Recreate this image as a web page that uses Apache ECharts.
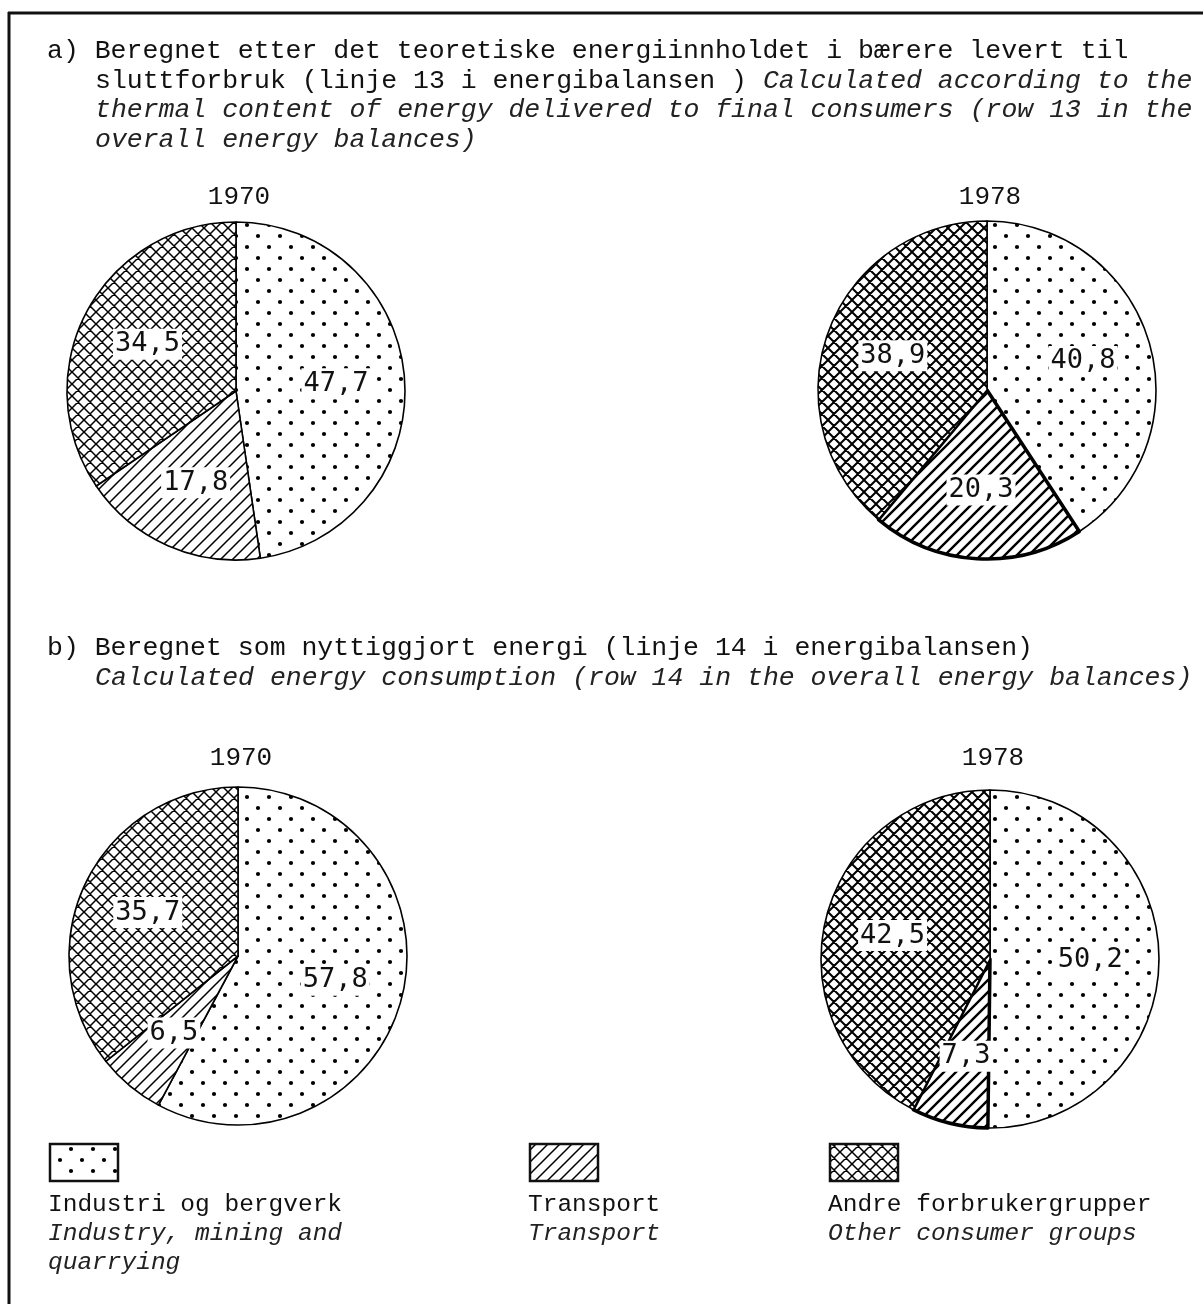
<!DOCTYPE html>
<html><head><meta charset="utf-8">
<script src="https://cdn.jsdelivr.net/npm/echarts@6/dist/echarts.min.js"></script>
<style>html,body{margin:0;padding:0;background:#fff}#c{width:1203px;height:1304px}</style>
</head><body><div id="c"></div>
<script>
// ---- data ----
const categoriesNo = ['Industri og bergverk', 'Transport', 'Andre forbrukergrupper'];
const categoriesEn = [['Industry, mining and', 'quarrying'], ['Transport'], ['Other consumer groups']];
const years = ['1970', '1978'];
const valuesA1970 = [47.7, 17.8, 34.5];
const valuesA1978 = [40.8, 20.3, 38.9];
const valuesB1970 = [57.8, 6.5, 35.7];
const valuesB1978 = [50.2, 7.3, 42.5];
const titleA = [
  '{n|a) Beregnet etter det teoretiske energiinnholdet i bærere levert til}',
  '{n|sluttforbruk (linje 13 i energibalansen ) }{i|Calculated according to the}',
  '{i|thermal content of energy delivered to final consumers (row 13 in the}',
  '{i|overall energy balances)}'
];
const titleB = [
  '{n|b) Beregnet som nyttiggjort energi (linje 14 i energibalansen)}',
  '{i|Calculated energy consumption (row 14 in the overall energy balances)}'
];

// ---- patterns ----
function makePattern(type, lw) {
  const c = document.createElement('canvas');
  const s = type === 'dots' ? 22 : 12;
  c.width = s; c.height = s;
  const g = c.getContext('2d');
  g.fillStyle = '#fff'; g.fillRect(0, 0, s, s);
  g.fillStyle = '#000'; g.strokeStyle = '#000'; g.lineWidth = lw;
  if (type === 'dots') {
    [[5, 5], [16, 16]].forEach(([x, y]) => { g.beginPath(); g.arc(x, y, 2.1, 0, Math.PI * 2); g.fill(); });
  } else {
    g.beginPath();
    g.moveTo(-2, s + 2); g.lineTo(s + 2, -2);
    g.moveTo(-2, 2); g.lineTo(2, -2);
    g.moveTo(s - 2, s + 2); g.lineTo(s + 2, s - 2);
    if (type === 'cross') {
      g.moveTo(-2, -2); g.lineTo(s + 2, s + 2);
      g.moveTo(s - 2, -2); g.lineTo(s + 2, 2);
      g.moveTo(-2, s - 2); g.lineTo(2, s + 2);
    }
    g.stroke();
  }
  return { image: c, repeat: 'repeat' };
}
const patsLight = [makePattern('dots', 1), makePattern('hatch', 1.5), makePattern('cross', 1.5)];
const patsHeavy = [makePattern('dots', 1), makePattern('hatch', 2.4), makePattern('cross', 2.0)];

const R = 169;
const fmt = v => v.toFixed(1).replace('.', ',');
const MONO = "'Liberation Mono', 'DejaVu Sans Mono', monospace";

function pieSeries(vals, center, heavy) {
  const pats = heavy ? patsHeavy : patsLight;
  return [{
    type: 'pie', center: center, radius: [0, R], startAngle: 90, clockwise: true,
    silent: true, animation: false, label: { show: false }, labelLine: { show: false },
    emphasis: { disabled: true },
    data: vals.map((v, i) => ({
      value: v, name: categoriesNo[i],
      itemStyle: { color: pats[i], borderColor: '#000', borderWidth: heavy && i === 1 ? 3.5 : 1.6 }
    }))
  }, {
    type: 'pie', center: center, radius: [R * 0.15, R], startAngle: 90, clockwise: true,
    silent: true, animation: false, labelLine: { show: false }, avoidLabelOverlap: false,
    emphasis: { disabled: true },
    itemStyle: { color: 'rgba(0,0,0,0)', borderWidth: 0 },
    label: {
      show: true, position: 'inside', formatter: p => fmt(p.value),
      fontFamily: "'DejaVu Sans Mono', monospace", fontSize: 27, color: '#111',
      backgroundColor: '#fff', padding: [3, 2, 1, 2]
    },
    data: vals.map((v, i) => ({ value: v, name: categoriesNo[i] }))
  }];
}

const centers = { a1970: [236, 391], a1978: [987, 390], b1970: [238, 956], b1978: [990, 959] };

const graphics = [];
// frame
graphics.push({ type: 'line', shape: { x1: 8, y1: 13, x2: 1203, y2: 13 }, style: { stroke: '#111', lineWidth: 3 } });
graphics.push({ type: 'line', shape: { x1: 9, y1: 12, x2: 9, y2: 1304 }, style: { stroke: '#111', lineWidth: 3 } });

const richStyles = {
  n: { fontFamily: MONO, fontSize: 26.5, fill: '#111' },
  i: { fontFamily: MONO, fontSize: 26.5, fontStyle: 'italic', fill: '#222' }
};
function titleLines(lines, y0, step) {
  lines.forEach((t, k) => {
    graphics.push({ type: 'text', x: k === 0 ? 47 : 95, y: y0 + k * step,
      style: { text: t, rich: richStyles, textVerticalAlign: 'middle', textAlign: 'left' } });
  });
}
titleLines(titleA, 51, 29.5);
titleLines(titleB, 648, 29.5);

// years
[[centers.a1970, years[0], 197], [centers.a1978, years[1], 197], [centers.b1970, years[0], 758], [centers.b1978, years[1], 758]]
  .forEach(([c, t, y]) => graphics.push({ type: 'text', x: c[0] + 3, y: y,
    style: { text: t, fontFamily: MONO, fontSize: 26, fill: '#111', textAlign: 'center', textVerticalAlign: 'middle' } }));

// legend
const legendX = [50, 530, 830];
categoriesNo.forEach((name, i) => {
  const x = legendX[i];
  graphics.push({ type: 'rect', shape: { x: x, y: 1144, width: 68, height: 37 },
    style: { fill: patsLight[i], stroke: '#111', lineWidth: 2.5 } });
  graphics.push({ type: 'text', x: x - 2, y: 1205,
    style: { text: name, fontFamily: MONO, fontSize: 24.5, fill: '#111', textVerticalAlign: 'middle' } });
  categoriesEn[i].forEach((t, k) => graphics.push({ type: 'text', x: x - 2, y: 1234 + k * 29,
    style: { text: t, fontFamily: MONO, fontSize: 24.5, fontStyle: 'italic', fill: '#222', textVerticalAlign: 'middle' } }));
});

const chart = echarts.init(document.getElementById('c'), null, { renderer: 'canvas' });
chart.setOption({
  backgroundColor: '#fff',
  animation: false,
  series: [].concat(
    pieSeries(valuesA1970, centers.a1970, false),
    pieSeries(valuesA1978, centers.a1978, true),
    pieSeries(valuesB1970, centers.b1970, false),
    pieSeries(valuesB1978, centers.b1978, true)
  ),
  graphic: graphics
});
</script></body></html>
